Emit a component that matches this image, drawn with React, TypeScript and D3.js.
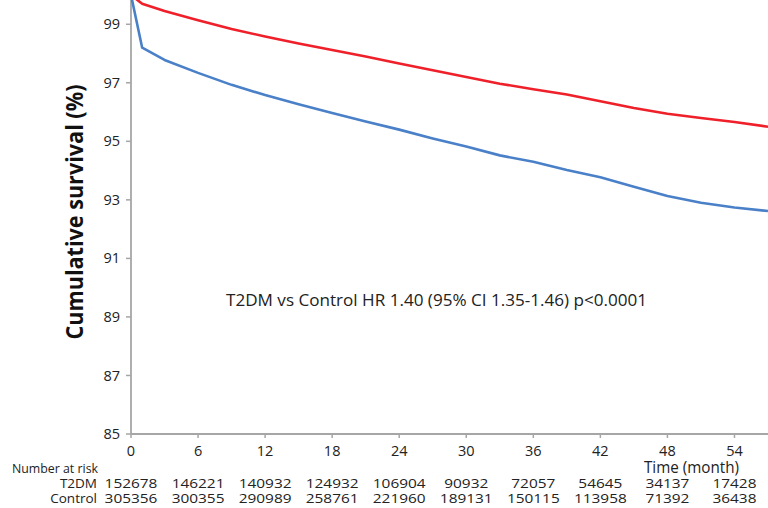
import React from 'react';
import * as d3 from 'd3';

const months = [0, 1, 3, 6, 9, 12, 15, 18, 21, 24, 27, 30, 33, 36, 39, 42, 45, 48, 51, 54, 57];
const controlSurv = [100, 99.7, 99.45, 99.14, 98.84, 98.58, 98.34, 98.12, 97.9, 97.66, 97.43, 97.2, 96.97, 96.78, 96.6, 96.37, 96.14, 95.94, 95.8, 95.66, 95.5];
const t2dmSurv = [100, 98.2, 97.78, 97.34, 96.93, 96.58, 96.27, 95.97, 95.68, 95.4, 95.1, 94.82, 94.52, 94.3, 94.02, 93.77, 93.45, 93.13, 92.9, 92.74, 92.62];

const xTicks = [0, 6, 12, 18, 24, 30, 36, 42, 48, 54];
const yTicks = [85, 87, 89, 91, 93, 95, 97, 99];
const riskT2dm = [152678, 146221, 140932, 124932, 106904, 90932, 72057, 54645, 34137, 17428];
const riskControl = [305356, 300355, 290989, 258761, 221960, 189131, 150115, 113958, 71392, 36438];

const W = 768;
const H = 508;
const font = '"Open Sans", "Liberation Sans", sans-serif';
const axisColor = '#a6a6a6';

export default function App() {
  const x = d3.scaleLinear().domain([0, 57]).range([131, 768]);
  const y = d3.scaleLinear().domain([85, 100]).range([434, -5]);

  const line = d3
    .line<number>()
    .x((d, i) => x(months[i]))
    .y(d => y(d));

  return (
    <svg
      width={W}
      height={H}
      style={{ position: 'absolute', left: 0, top: 0, background: '#fff' }}
      fontFamily={font}
    >
      {/* axes */}
      <line x1={x(0)} x2={x(0)} y1={0} y2={y(85)} stroke={axisColor} strokeWidth={1.8} />
      <line x1={x(0)} x2={W} y1={y(85)} y2={y(85)} stroke={axisColor} strokeWidth={1.8} />

      {yTicks.map(t => (
        <g key={'y' + t}>
          <line x1={x(0) - 5} x2={x(0)} y1={y(t)} y2={y(t)} stroke={axisColor} strokeWidth={1.5} />
          <text x={120} y={y(t)} dy="0.35em" textAnchor="end" fontSize={14.5} fill="#222">
            {t}
          </text>
        </g>
      ))}

      {xTicks.map(t => (
        <g key={'x' + t}>
          <line x1={x(t)} x2={x(t)} y1={y(85)} y2={y(85) + 4} stroke={axisColor} strokeWidth={1.5} />
          <text x={x(t)} y={456} textAnchor="middle" fontSize={14.5} fill="#222">
            {t}
          </text>
        </g>
      ))}

      {/* survival curves */}
      <path d={line(controlSurv) || ''} fill="none" stroke="#f0202a" strokeWidth={2.6} strokeLinejoin="round" />
      <path d={line(t2dmSurv) || ''} fill="none" stroke="#4a80c8" strokeWidth={2.6} strokeLinejoin="round" />

      {/* titles */}
      <text
        transform={`translate(83, 212) rotate(-90)`}
        textAnchor="middle"
        fontSize={23}
        fontWeight="bold"
        fill="#111"
        textLength={255}
        lengthAdjust="spacingAndGlyphs"
      >
        Cumulative survival (%)
      </text>
      <text x={691.5} y={473} textAnchor="middle" fontSize={16} fill="#222" textLength={95} lengthAdjust="spacingAndGlyphs">
        Time (month)
      </text>
      <text x={436.5} y={306} textAnchor="middle" fontSize={16} fill="#222" textLength={421} lengthAdjust="spacingAndGlyphs">
        T2DM vs Control HR 1.40 (95% CI 1.35-1.46) p&lt;0.0001
      </text>

      {/* number at risk */}
      <text x={12} y={473} fontSize={13} fill="#222" textLength={86} lengthAdjust="spacingAndGlyphs">
        Number at risk
      </text>
      <text x={97} y={488} textAnchor="end" fontSize={13.5} fill="#222">
        T2DM
      </text>
      <text x={97} y={503} textAnchor="end" fontSize={13.5} fill="#222">
        Control
      </text>
      {riskT2dm.map((v, i) => (
        <text key={'t' + i} x={x(xTicks[i])} y={488} textAnchor="middle" fontSize={13.5} fill="#222" textLength={String(v).length * 8.8} lengthAdjust="spacingAndGlyphs">
          {v}
        </text>
      ))}
      {riskControl.map((v, i) => (
        <text key={'c' + i} x={x(xTicks[i])} y={503} textAnchor="middle" fontSize={13.5} fill="#222" textLength={String(v).length * 8.8} lengthAdjust="spacingAndGlyphs">
          {v}
        </text>
      ))}
    </svg>
  );
}
